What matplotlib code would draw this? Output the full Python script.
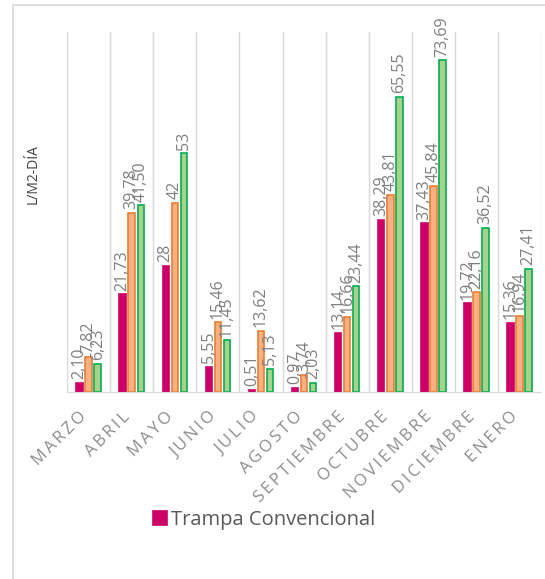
import matplotlib

matplotlib.use("Agg")

import matplotlib.pyplot as plt
import matplotlib.transforms as mtransforms
import numpy as np
from matplotlib.patches import Rectangle

plt.rcParams["font.family"] = ["Open Sans", "DejaVu Sans"]

months = ["MARZO", "ABRIL", "MAYO", "JUNIO", "JULIO", "AGOSTO", "SEPTIEMBRE",
          "OCTUBRE", "NOVIEMBRE", "DICIEMBRE", "ENERO"]
convencional = [2.10, 21.73, 28, 5.55, 0.51, 0.97, 13.14, 38.29, 37.43, 19.72, 15.36]
trampa_b = [7.82, 39.78, 42, 15.46, 13.62, 3.74, 16.66, 43.81, 45.84, 22.16, 16.94]
trampa_c = [6.23, 41.50, 53, 11.45, 5.13, 2.03, 23.44, 65.55, 73.69, 36.52, 27.41]


def fmt(v):
    if float(v).is_integer():
        return f"{int(v)}"
    return f"{v:.2f}".replace(".", ",")


def spaced(s):
    # Excel draws these axis labels with extra letter spacing
    return "\u2009".join(s)


fig = plt.figure(figsize=(5.45, 5.79), dpi=100)
ax = fig.add_axes([0.123, 0.323, 0.870, 0.622])

x = np.arange(len(months))
w = 0.15
step = 0.21
series = [
    (convencional, "#cc0066", "#cc0066", "Trampa Convencional"),
    (trampa_b, "#f4b183", "#ed7d31", "_b"),
    (trampa_c, "#a9d18e", "#00b050", "_c"),
]
for i, (vals, face, edge, name) in enumerate(series):
    pos = x + (i - 1) * step
    ax.bar(pos, vals, width=w, color=face, edgecolor=edge, linewidth=1.2, label=name)
    for xb, v in zip(pos, vals):
        ax.text(xb, v + 0.8, fmt(v), rotation=90, ha="center", va="bottom",
                fontsize=11.5, color="#7f7f7f")

ax.set_xlim(-0.5, len(months) - 0.5)
ax.set_ylim(0, 80)
ax.set_yticks([])
ax.set_xticks(x)
ax.set_xticklabels([spaced(m) for m in months], rotation=45, ha="right",
                   rotation_mode="anchor", fontsize=12, color="#8c8c8c")
ax.tick_params(axis="x", length=0, pad=12)
shift = mtransforms.ScaledTranslation(-0.1, 0, fig.dpi_scale_trans)
for lbl in ax.get_xticklabels():
    lbl.set_transform(lbl.get_transform() + shift)
for b in np.arange(-0.5, len(months), 1.0):
    ax.axvline(b, color="#d9d9d9", linewidth=1, zorder=0)
for side in ["top", "right", "left"]:
    ax.spines[side].set_visible(False)
ax.spines["bottom"].set_color("#d9d9d9")

fig.text(0.06, 0.70, "L/M2-DÍA", rotation=90, ha="center", va="center",
         fontsize=10, color="#404040")

handles, labels = ax.get_legend_handles_labels()
fig.legend(handles[:1], labels[:1], loc="center", bbox_to_anchor=(0.485, 0.102),
           frameon=False, fontsize=14.5, labelcolor="#595959", handlelength=0.7,
           handleheight=0.7, handletextpad=0.2)

fig.patches.append(Rectangle((13 / 545, -0.05), 1.0, 1 - 5 / 579 + 0.05,
                             transform=fig.transFigure, fill=False,
                             edgecolor="#d9d9d9", linewidth=1.2))

fig.savefig("out.png", dpi=100, facecolor="white")
